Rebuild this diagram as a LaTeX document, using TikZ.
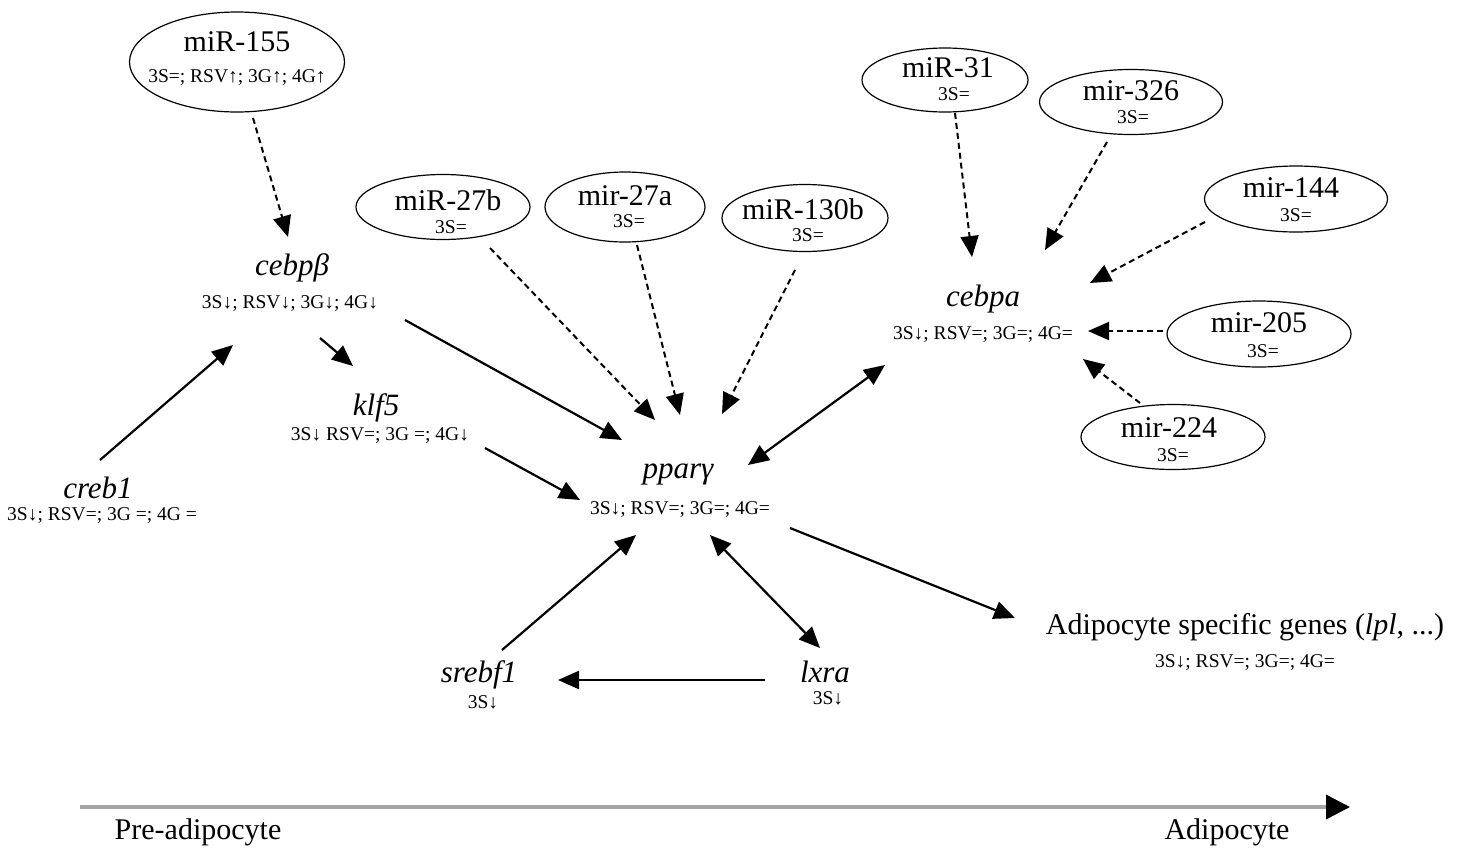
\documentclass[tikz,border=0pt]{standalone}
\usepackage{fontspec}
\setmainfont{Liberation Serif}
\usetikzlibrary{arrows.meta,shapes.geometric,calc}
\begin{document}
\begin{tikzpicture}[x=1pt,y=-1pt,
  mirell/.style={draw, ellipse, line width=1.2pt, inner sep=0pt},
  mirname/.style={font=\fontsize{30}{33}\selectfont, inner sep=0pt},
  gname/.style={font=\fontsize{31}{34}\selectfont\itshape, inner sep=0pt},
  sub/.style={font=\fontsize{19.5}{22}\selectfont, inner sep=0pt},
  arr/.style={line width=2.2pt, -{Triangle[length=21pt,width=18pt]}},
  darr/.style={line width=2.2pt, {Triangle[length=21pt,width=18pt]}-{Triangle[length=21pt,width=18pt]}},
  dash arr/.style={line width=2pt, dash pattern=on 6pt off 4pt, -{Triangle[length=21pt,width=18pt]}},
  timeline/.style={line width=3.5pt, draw={rgb,255:red,165;green,165;blue,165}, -{Triangle[length=24pt,width=24pt,color=black]}}
]
\useasboundingbox (0,0) rectangle (1463,849);

% microRNA ellipses
\node[mirell, minimum width=215pt, minimum height=100pt] (m155) at (237,62) {};
\node[mirname] (m155t) at (237,42) {miR-155};
\node[sub] (m155s) at (237,78) {3S=; RSV↑; 3G↑; 4G↑};

\node[mirell, minimum width=174pt, minimum height=65pt] (m27b) at (443,207) {};
\node[mirname] (m27bt) at (448,200) {miR-27b};
\node[sub] (m27bs) at (451,227) {3S=};

\node[mirell, minimum width=160pt, minimum height=70pt] (m27a) at (625,207) {};
\node[mirname] (m27at) at (625,196) {mir-27a};
\node[sub] (m27as) at (629,221) {3S=};

\node[mirell, minimum width=166pt, minimum height=67pt] (m130b) at (805,218) {};
\node[mirname] (m130bt) at (803,209) {miR-130b};
\node[sub] (m130bs) at (808,235) {3S=};

\node[mirell, minimum width=166pt, minimum height=64pt] (m31) at (945,80) {};
\node[mirname] (m31t) at (948,68) {miR-31};
\node[sub] (m31s) at (954,94) {3S=};

\node[mirell, minimum width=183pt, minimum height=65pt] (m326) at (1131,102) {};
\node[mirname] (m326t) at (1131,91) {mir-326};
\node[sub] (m326s) at (1133,117) {3S=};

\node[mirell, minimum width=183pt, minimum height=66pt] (m144) at (1296,199) {};
\node[mirname] (m144t) at (1291,188) {mir-144};
\node[sub] (m144s) at (1296,215) {3S=};

\node[mirell, minimum width=184pt, minimum height=66pt] (m205) at (1259,334) {};
\node[mirname] (m205t) at (1259,323) {mir-205};
\node[sub] (m205s) at (1263,351) {3S=};

\node[mirell, minimum width=184pt, minimum height=65pt] (m224) at (1173,437) {};
\node[mirname] (m224t) at (1169,428) {mir-224};
\node[sub] (m224s) at (1173,455) {3S=};

% genes
\node[gname] (cebpb) at (292,268) {cebpβ};
\node[sub] (cebpbs) at (290,304) {3S↓; RSV↓; 3G↓; 4G↓};

\node[gname] (klf5) at (376,408) {klf5};
\node[sub] (klf5s) at (380,436) {3S↓ RSV=; 3G =; 4G↓};

\node[gname] (creb1) at (98,488) {creb1};
\node[sub] (creb1s) at (102,516) {3S↓; RSV=; 3G =; 4G =};

\node[gname] (ppar) at (678,474) {pparγ};
\node[sub] (ppars) at (680,510) {3S↓; RSV=; 3G=; 4G=};

\node[gname] (cebpa) at (983,299) {cebpa};
\node[sub] (cebpas) at (983,335) {3S↓; RSV=; 3G=; 4G=};

\node[gname] (srebf1) at (479,675) {srebf1};
\node[sub] (srebf1s) at (483,702) {3S↓};

\node[gname] (lxra) at (825,672) {lxra};
\node[sub] (lxras) at (828,698) {3S↓};

\node[mirname] (adip) at (1245,627) {Adipocyte specific genes (\textit{lpl}, ...)};
\node[sub] (adips) at (1245,663) {3S↓; RSV=; 3G=; 4G=};

% connectors
\draw[dash arr] ($(m155)+(16,56)$) -- ($(cebpb)+(-4,-31)$);
\draw[arr] ($(cebpb)+(28,70)$) -- ($(klf5)+(-23,-42)$);
\draw[arr] ($(cebpb)+(113,52)$) -- ($(ppar)+(-56,-34)$);
\draw[arr] ($(creb1)+(2,-28)$) -- ($(cebpb)+(-59,77)$);
\draw[arr] ($(klf5)+(109,40)$) -- ($(ppar)+(-98,26)$);
\draw[dash arr] ($(m27b)+(47,41)$) -- ($(ppar)+(-23,-54)$);
\draw[dash arr] ($(m27a)+(12,38)$) -- ($(ppar)+(2,-59)$);
\draw[dash arr] ($(m130b)+(-10,52)$) -- ($(ppar)+(44,-60)$);
\draw[darr] ($(cebpa)+(-98,66)$) -- ($(ppar)+(70,-9)$);
\draw[arr] ($(ppar)+(112,54)$) -- ($(adip)+(-230,-9)$);
\draw[arr] ($(srebf1)+(23,-25)$) -- ($(ppar)+(-42,61)$);
\draw[darr] ($(ppar)+(32,61)$) -- ($(lxra)+(-5,-24)$);
\draw[arr] ($(lxra)+(-60,8)$) -- ($(srebf1)+(79,5)$);
\draw[dash arr] ($(m31)+(10,33)$) -- ($(cebpa)+(-11,-42)$);
\draw[dash arr] ($(m326)+(-24,40)$) -- ($(cebpa)+(62,-49)$);
\draw[dash arr] ($(m144)+(-91,23)$) -- ($(cebpa)+(107,-16)$);
\draw[dash arr] ($(m205)+(-96,-3)$) -- ($(cebpa)+(105,32)$);
\draw[dash arr] ($(m224)+(-33,-34)$) -- ($(cebpa)+(100,60)$);

% timeline
\node[mirname] (pre) at (198,832) {Pre-adipocyte};
\node[mirname] (post) at (1227,832) {Adipocyte};
\coordinate (tl0) at (80,807);
\coordinate (tl1) at (1350,807);
\draw[timeline] (tl0) -- (tl1);
\end{tikzpicture}
\end{document}
